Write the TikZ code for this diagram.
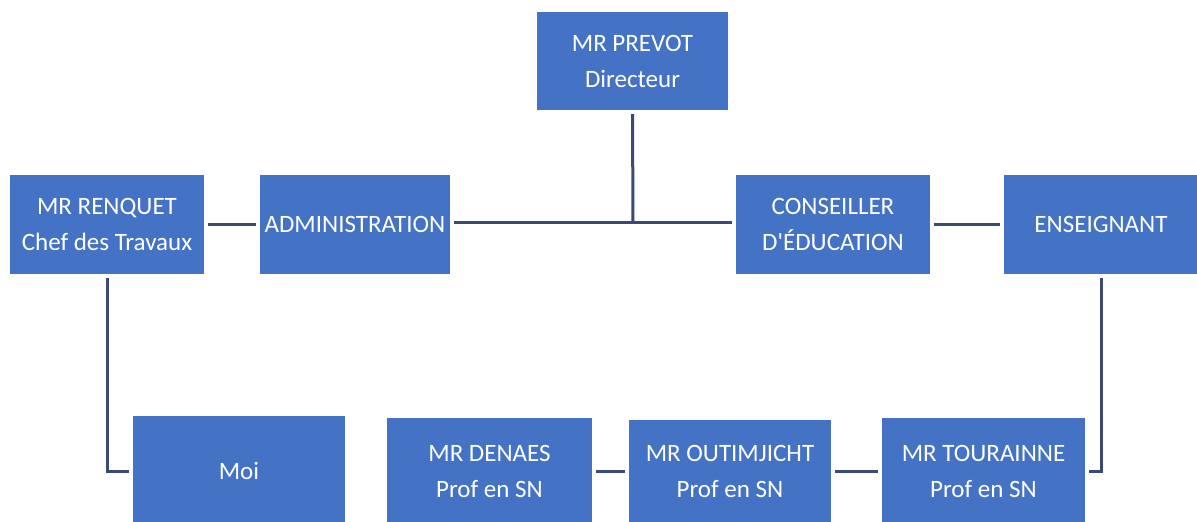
\documentclass[tikz,border=0pt]{standalone}
\usepackage{fontspec}
\setmainfont{Carlito}
\definecolor{boxblue}{HTML}{4472C4}
\definecolor{linecol}{HTML}{3A4A75}
\begin{document}
\begin{tikzpicture}[x=1pt,y=-1pt,
  box/.style={fill=boxblue,draw=none,text=white,align=center,inner sep=0pt,outer sep=4pt,
    font=\fontsize{25}{36}\selectfont},
  conn/.style={draw=linecol,line width=3pt}]
\useasboundingbox (0,0) rectangle (1197,522);
\clip (0,0) rectangle (1197,522);
\fill[white] (0,0) rectangle (1197,522);
\node[box,minimum width=191pt,minimum height=98pt] (prevot) at (632.5,61) {MR PREVOT\\Directeur};
\node[box,minimum width=194pt,minimum height=99pt] (renquet) at (107,224) {MR RENQUET\\Chef des Travaux};
\node[box,minimum width=190pt,minimum height=99pt] (admin) at (355,224) {ADMINISTRATION};
\node[box,minimum width=194pt,minimum height=99pt] (conseil) at (833,224) {CONSEILLER\\D\textquotesingle ÉDUCATION};
\node[box,minimum width=194pt,minimum height=99pt] (enseig) at (1101,224) {ENSEIGNANT};
\node[box,minimum width=212pt,minimum height=110pt] (moi) at (239,471) {Moi};
\node[box,minimum width=205pt,minimum height=106pt] (denaes) at (489.5,471) {MR DENAES\\Prof en SN};
\node[box,minimum width=202pt,minimum height=102pt] (outim) at (730,471) {MR OUTIMJICHT\\Prof en SN};
\node[box,minimum width=203pt,minimum height=106pt] (tour) at (983.5,471) {MR TOURAINNE\\Prof en SN};
\coordinate (junction) at (633,222.5);
\draw[conn] (prevot.south) -- (junction);
\draw[conn] (admin.east |- junction) -- (conseil.west |- junction);
\draw[conn] (renquet) -- (admin);
\draw[conn] (conseil) -- (enseig);
\draw[conn] (renquet.south) |- (moi.west);
\draw[conn] (enseig.south) |- (tour.east);
\draw[conn] (denaes) -- (outim);
\draw[conn] (outim) -- (tour);
\end{tikzpicture}
\end{document}
